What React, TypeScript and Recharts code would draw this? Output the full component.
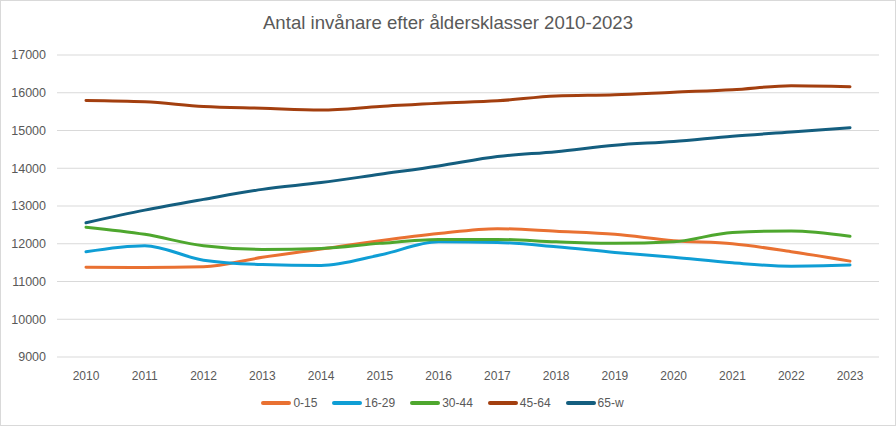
import { LineChart, Line, XAxis, YAxis, CartesianGrid, Legend } from 'recharts';

const years = ['2010', '2011', '2012', '2013', '2014', '2015', '2016', '2017', '2018', '2019', '2020', '2021', '2022', '2023'];
const age0_15 = [11380, 11370, 11390, 11640, 11860, 12080, 12270, 12400, 12330, 12250, 12080, 12000, 11790, 11540];
const age16_29 = [11790, 11950, 11565, 11450, 11425, 11700, 12050, 12035, 11920, 11770, 11640, 11495, 11405, 11435];
const age30_44 = [12440, 12250, 11945, 11850, 11875, 12010, 12110, 12115, 12050, 12010, 12050, 12300, 12340, 12200];
const age45_64 = [15795, 15760, 15635, 15590, 15545, 15635, 15725, 15785, 15915, 15945, 16015, 16080, 16185, 16160];
const age65w = [12555, 12890, 13175, 13440, 13620, 13840, 14060, 14310, 14440, 14610, 14710, 14850, 14960, 15075];
const yTicks = [9000, 10000, 11000, 12000, 13000, 14000, 15000, 16000, 17000];

const series = [
  { key: 's0', name: '0-15', color: '#E97132', values: age0_15 },
  { key: 's1', name: '16-29', color: '#0F9ED5', values: age16_29 },
  { key: 's2', name: '30-44', color: '#4EA72E', values: age30_44 },
  { key: 's3', name: '45-64', color: '#A33F0F', values: age45_64 },
  { key: 's4', name: '65-w', color: '#145E7F', values: age65w },
];

const data = years.map((y, i) => {
  const row: Record<string, string | number> = { year: y };
  series.forEach((s) => {
    row[s.key] = s.values[i];
  });
  return row;
});

const font = '"Liberation Sans", Arial, sans-serif';

const LegendContent = () => (
  <div style={{ display: 'flex', justifyContent: 'center', alignItems: 'center', fontFamily: font, fontSize: 12, color: '#595959', height: 20, paddingLeft: 6 }}>
    {series.map((s) => (
      <div key={s.key} style={{ display: 'flex', alignItems: 'center', margin: '0 7.5px' }}>
        <span style={{ display: 'inline-block', width: 30, height: 4, borderRadius: 2, background: s.color, marginRight: 2 }} />
        <span>{s.name}</span>
      </div>
    ))}
  </div>
);

export default function App() {
  return (
    <div style={{ position: 'absolute', left: 0, top: 0, width: 896, height: 426, boxSizing: 'border-box', border: '1px solid #d9d9d9', background: '#fff' }}>
      <div style={{ position: 'absolute', top: 11, left: 0, width: 894, textAlign: 'center', fontFamily: font, fontSize: 18.6, color: '#595959' }}>
        Antal invånare efter åldersklasser 2010-2023
      </div>
      <div style={{ position: 'absolute', left: -1, top: -1 }}>
        <LineChart width={896} height={426} data={data} margin={{ top: 55, right: 17, bottom: 13, left: 0 }}>
          <CartesianGrid vertical={false} stroke="#d9d9d9" />
          <XAxis
            dataKey="year"
            axisLine={false}
            tickLine={false}
            height={36}
            tickMargin={8}
            padding={{ left: 29, right: 29 }}
            tick={{ fill: '#595959', fontSize: 12, fontFamily: font }}
          />
          <YAxis
            domain={[9000, 17000]}
            ticks={yTicks}
            axisLine={false}
            tickLine={false}
            width={57}
            tickMargin={5}
            tick={{ fill: '#595959', fontSize: 12.5, fontFamily: font }}
          />
          <Legend verticalAlign="bottom" height={20} content={<LegendContent />} />
          {series.map((s) => (
            <Line
              key={s.key}
              type="monotone"
              dataKey={s.key}
              name={s.name}
              stroke={s.color}
              strokeWidth={3}
              dot={false}
              strokeLinecap="round"
              isAnimationActive={false}
            />
          ))}
        </LineChart>
      </div>
    </div>
  );
}
